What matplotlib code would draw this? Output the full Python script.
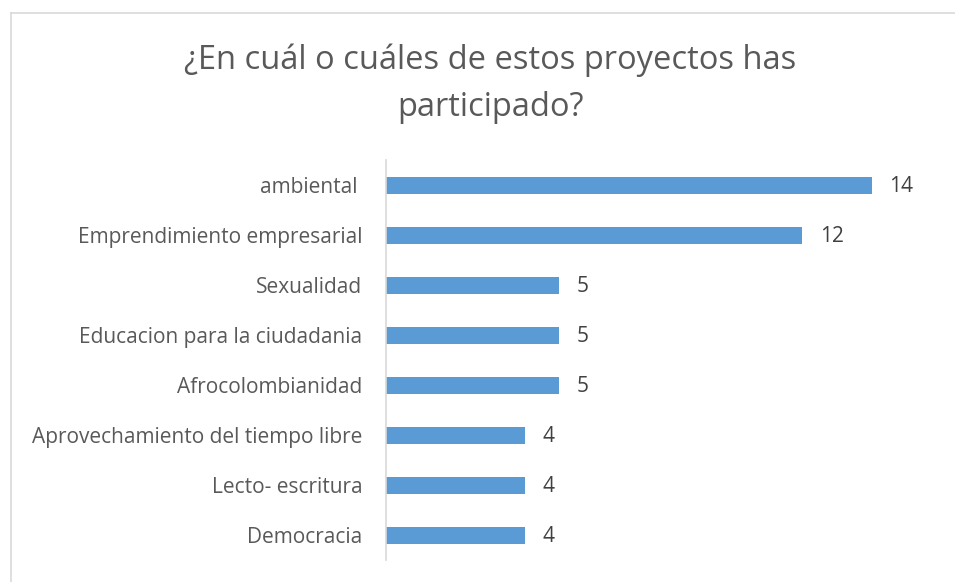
import matplotlib
matplotlib.use("Agg")
import matplotlib.pyplot as plt
from matplotlib.lines import Line2D

categories = ["ambiental ", "Emprendimiento empresarial", "Sexualidad",
              "Educacion para la ciudadania", "Afrocolombianidad",
              "Aprovechamiento del tiempo libre", "Lecto- escritura", "Democracia"]
values = [14, 12, 5, 5, 5, 4, 4, 4]
title = "¿En cuál o cuáles de estos proyectos has\nparticipado?"

W, H = 955, 582
fig = plt.figure(figsize=(W / 100, H / 100), dpi=100)
fig.patch.set_facecolor("white")

# chart frame
fig.add_artist(Line2D([11 / W, 11 / W], [0, 1 - 13 / H], color="#d9d9d9", lw=1.2))
fig.add_artist(Line2D([11 / W, 1], [1 - 13 / H, 1 - 13 / H], color="#d9d9d9", lw=1.2))

ax = fig.add_axes([386 / W, 22 / H, 555 / W, 400 / H])
pos = list(range(len(categories)))
ax.barh(pos, values, height=0.34, color="#5b9bd5", zorder=2)
ax.set_ylim(len(categories) - 0.5, -0.5)
ax.set_xlim(0, 16)
ax.set_yticks(pos)
ax.set_yticklabels(categories, fontsize=15, color="#595959", family="Open Sans")
ax.tick_params(axis="y", length=0, pad=17)
ax.set_xticks([])
for s in ["top", "right", "bottom"]:
    ax.spines[s].set_visible(False)
ax.spines["left"].set_color("#d9d9d9")
ax.spines["left"].set_linewidth(1.2)
for p, v in zip(pos, values):
    ax.text(v + 0.5, p + 0.04, str(v), va="center", ha="left", fontsize=15,
            color="#404040", family="Open Sans")

fig.text(490 / W, 1 - 84 / H, title, ha="center", va="center", fontsize=23.5,
         color="#595959", family="Open Sans", linespacing=1.55)

fig.savefig("out.png", dpi=100)
